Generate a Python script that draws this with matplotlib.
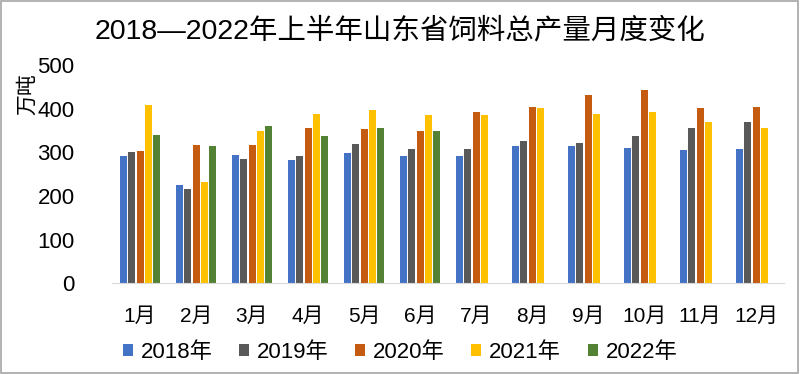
import numpy as np
import matplotlib
matplotlib.use('Agg')
import matplotlib.pyplot as plt

plt.rcParams['font.family'] = ['Liberation Sans', 'Noto Sans CJK SC']

months = ['1月', '2月', '3月', '4月', '5月', '6月', '7月', '8月', '9月', '10月', '11月', '12月']
years = ['2018年', '2019年', '2020年', '2021年', '2022年']

y2018 = [293, 226, 295, 282, 298, 291, 292, 315, 315, 311, 305, 308]
y2019 = [301, 217, 285, 292, 319, 308, 308, 326, 322, 337, 356, 369]
y2020 = [304, 316, 317, 355, 353, 350, 392, 404, 432, 444, 402, 403]
y2021 = [408, 232, 349, 389, 398, 386, 385, 401, 388, 392, 369, 356]
y2022 = [341, 314, 360, 337, 355, 350]

series = [y2018, y2019, y2020, y2021, y2022]
colors = ['#4472C4', '#595959', '#C55A11', '#FFC000', '#548235']

fig = plt.figure(figsize=(8, 3.74), dpi=100)
ax = fig.add_axes([0.14, 0.242, 0.84, 0.584])

x = np.arange(len(months))
step = 0.147
width = 0.125
for i, (vals, col, name) in enumerate(zip(series, colors, years)):
    xs = x[:len(vals)] + (i - 2) * step
    ax.bar(xs, vals, width=width, color=col, label=name, zorder=2)

ax.set_xlim(-0.5, len(months) - 0.5)
ax.set_ylim(0, 500)
ax.set_yticks(range(0, 501, 100))
ax.set_xticks(x)
ax.set_xticklabels(months, fontsize=15)
ax.tick_params(axis='y', labelsize=16, length=0, pad=27)
ax.tick_params(axis='x', length=0, pad=17)
for s in ['top', 'right', 'left']:
    ax.spines[s].set_visible(False)
ax.spines['bottom'].set_color('#D9D9D9')

fig.text(0.5, 0.917, '2018—2022年上半年山东省饲料总产量月度变化',
         ha='center', va='center', fontsize=20.5)
fig.text(0.034, 0.749, '万吨', rotation=90, ha='center', va='center', fontsize=15)

fig.legend(loc='center', bbox_to_anchor=(0.5, 0.057), ncol=5, frameon=False,
           fontsize=16, handlelength=0.45, handleheight=0.45, handletextpad=0.35,
           columnspacing=1.2)

# thin grey frame round the picture
fig.patches.append(plt.Rectangle((0.001, 0.002), 0.997, 0.995, transform=fig.transFigure,
                                 fill=False, edgecolor='#A6A6A6', linewidth=1.2))

fig.savefig('out.png', dpi=100)
